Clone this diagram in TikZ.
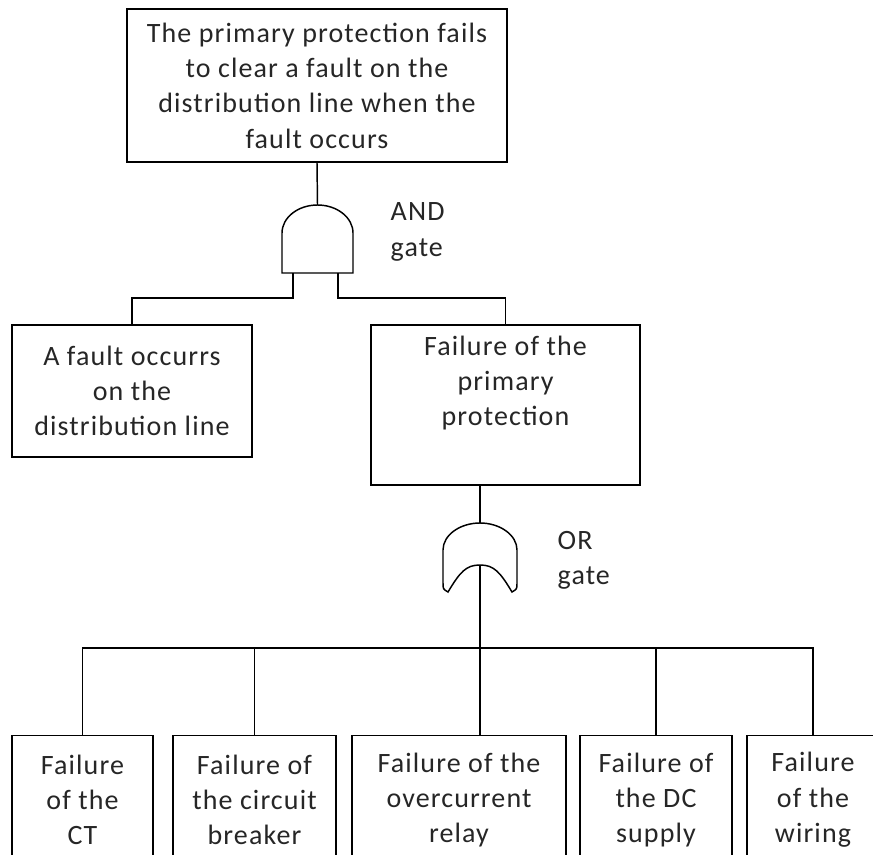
\documentclass[tikz,border=0pt]{standalone}
\usepackage{fontspec}
\setmainfont{Carlito}[LetterSpace=4]
\begin{document}
\begin{tikzpicture}[x=0.75pt,y=-0.75pt,line width=1.1pt,
  txtfont/.style={font=\fontsize{21}{26.5}\selectfont,text=black!85},
  box/.style={draw,align=center,inner sep=0pt,txtfont},
  frame/.style={draw,inner sep=0pt},
  txt/.style={align=center,inner sep=0pt,txtfont},
  gatelbl/.style={align=left,anchor=west,inner sep=0pt,txtfont},
  leaf/.style={frame,minimum height=150pt}]
\useasboundingbox (0,0) rectangle (873,855);

% top event
\node[box,minimum width=285pt,minimum height=114.75pt] (top) at (317,85.5)
  {The primary protection fails\\to clear a fault on the\\distribution line when the\\fault occurs};

% AND gate
\coordinate (andtop) at (317.5,205);
\coordinate (andl) at (293,273);
\coordinate (andr) at (338,273);
\draw (282,273) -- (282,233)
  .. controls (282,217.5) and (298,205) .. (andtop)
  .. controls (337,205) and (353,217.5) .. (353,233) -- (353,273) -- cycle;
\node[gatelbl] (andlbl) at (390,232) {AND\\gate};

% intermediate events
\node[box,minimum width=180pt,minimum height=99pt] (fault) at (132,391)
  {A fault occurrs\\on the\\distribution line};
\node[frame,minimum width=201.75pt,minimum height=120pt] (prot) at (505.5,405) {};
\node[txt] (prott) at (505.5,383) {Failure of the\\primary\\protection};

% OR gate
\coordinate (ortop) at (480,523);
\coordinate (orin) at (480,565);
\draw (448,592) .. controls (443,589) .. (443,583) -- (443,550)
  .. controls (443,535) and (460,523) .. (ortop)
  .. controls (500,523) and (517,535) .. (517,550) -- (517,583)
  .. controls (517,589) .. (512,592)
  .. controls (500,572) and (494,565) .. (orin)
  .. controls (466,565) and (460,572) .. (448,592) -- cycle;
\node[gatelbl] (orlbl) at (557,560) {OR\\gate};

% basic events: frames run past the lower edge, text sits in the upper part
\node[leaf,minimum width=105.75pt,anchor=north] (f1) at (82.5,735) {};
\node[leaf,minimum width=122.25pt,anchor=north] (f2) at (254.5,735) {};
\node[leaf,minimum width=160.5pt,anchor=north] (f3) at (459,735) {};
\node[leaf,minimum width=114pt,anchor=north] (f4) at (656,735) {};
\node[leaf,minimum width=99pt,anchor=north] (f5) at (813,735) {};
\node[txt] (f1t) at (82.5,800) {Failure\\of the\\CT};
\node[txt] (f2t) at (254.5,800) {Failure of\\the circuit\\breaker};
\node[txt] (f3t) at (459,800) {Failure of the\\overcurrent\\relay};
\node[txt] (f4t) at (656,800) {Failure of\\the DC\\supply};
\node[txt] (f5t) at (813,800) {Failure\\of the\\wiring};

% connectors
\coordinate (bus) at (480,648);
\draw (top.south) -- (andtop);
\draw (andl) -- ++(0,25) -| (fault.north);
\draw (andr) -- ++(0,25) -| (prot.north);
\draw (ortop |- prot.south) -- (ortop);
\draw (orin) -- (bus);
\draw (bus) -| (f1.north);
\draw (bus) -| (f2.north);
\draw (bus) -- (bus |- f3.north);
\draw (bus) -| (f4.north);
\draw (bus) -| (f5.north);
\end{tikzpicture}
\end{document}
